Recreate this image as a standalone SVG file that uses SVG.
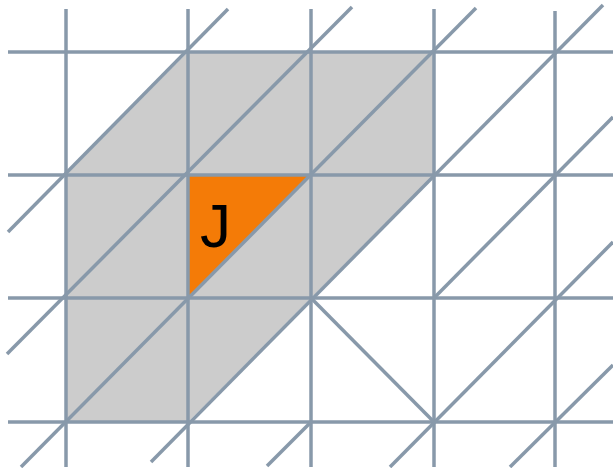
<svg xmlns="http://www.w3.org/2000/svg" width="613" height="468" viewBox="0 0 613 468">
<style>
.ln{stroke:#8899aa;stroke-width:3.5;fill:none;stroke-linecap:butt}
.lbl{font-family:"Liberation Sans",Arial,sans-serif;font-size:62px;fill:#000}
</style>
<rect width="613" height="468" fill="#ffffff"/>
<g id="fills">
<polygon points="66,175 188,52 434,52 434,175 311,298 188,422 66,422" fill="#cccccc"/>
<polygon id="J-cell" points="188,175 311,175 188,298" fill="#f47b07"/>
</g>
<g id="grid" class="ln">
<line x1="8" y1="52" x2="613" y2="52"/>
<line x1="8" y1="175" x2="613" y2="175"/>
<line x1="8" y1="298" x2="613" y2="298"/>
<line x1="8" y1="422" x2="613" y2="422"/>
<line x1="66" y1="9" x2="66" y2="467"/>
<line x1="188" y1="9" x2="188" y2="467"/>
<line x1="311" y1="9" x2="311" y2="467"/>
<line x1="434" y1="9" x2="434" y2="467"/>
<line x1="555" y1="11" x2="555" y2="467"/>
</g>
<g id="diagonals" class="ln">
<line x1="8" y1="232" x2="228" y2="9"/>
<line x1="7" y1="354" x2="352" y2="7"/>
<line x1="21" y1="467" x2="476" y2="8"/>
<line x1="151" y1="462" x2="603" y2="5"/>
<line x1="267" y1="466" x2="311" y2="422"/>
<line x1="434" y1="298" x2="613" y2="117"/>
<line x1="390" y1="467" x2="613" y2="242"/>
<line x1="510" y1="467" x2="613" y2="365"/>
<line x1="311" y1="298" x2="434" y2="422"/>
</g>
<g id="label">
<text class="lbl" x="200" y="247">J</text>
</g>
</svg>
